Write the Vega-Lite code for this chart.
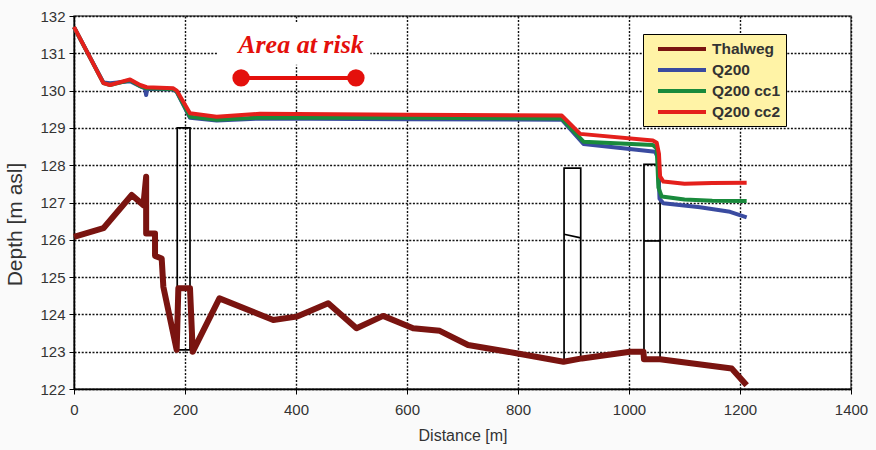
{
  "$schema": "https://vega.github.io/schema/vega-lite/v6.json",
  "width": 777,
  "height": 373,
  "autosize": "none",
  "padding": {"left": 74, "top": 16, "right": 25, "bottom": 61},
  "background": "#fafafa",
  "config": {
    "view": {"fill": "white", "stroke": "#555", "strokeWidth": 1.5},
    "font": "Liberation Sans",
    "axis": {
      "grid": true,
      "gridColor": "#111",
      "gridDash": [2, 1.6],
      "gridWidth": 1.4,
      "domainColor": "black",
      "domainWidth": 1.5,
      "tickColor": "black",
      "tickSize": 5,
      "labelFont": "Liberation Sans",
      "labelFontSize": 15,
      "labelColor": "#333",
      "labelOverlap": false,
      "labelFlush": false,
      "titleFont": "Liberation Sans",
      "titleFontSize": 16,
      "titleFontWeight": "normal",
      "titleColor": "#333"
    }
  },
  "datasets": {
    "profile": [
      {"series": "Thalweg", "i": 1, "x": 0, "y": 126.08},
      {"series": "Thalweg", "i": 2, "x": 53, "y": 126.31},
      {"series": "Thalweg", "i": 3, "x": 104, "y": 127.2},
      {"series": "Thalweg", "i": 4, "x": 125, "y": 126.93},
      {"series": "Thalweg", "i": 5, "x": 130, "y": 127.69},
      {"series": "Thalweg", "i": 6, "x": 130, "y": 126.17},
      {"series": "Thalweg", "i": 7, "x": 146, "y": 126.17},
      {"series": "Thalweg", "i": 8, "x": 146, "y": 125.57},
      {"series": "Thalweg", "i": 9, "x": 158, "y": 125.5},
      {"series": "Thalweg", "i": 10, "x": 161, "y": 124.74},
      {"series": "Thalweg", "i": 11, "x": 185, "y": 123.05},
      {"series": "Thalweg", "i": 12, "x": 188, "y": 124.7},
      {"series": "Thalweg", "i": 13, "x": 209, "y": 124.7},
      {"series": "Thalweg", "i": 14, "x": 214, "y": 123.0},
      {"series": "Thalweg", "i": 15, "x": 262, "y": 124.43},
      {"series": "Thalweg", "i": 16, "x": 359, "y": 123.85},
      {"series": "Thalweg", "i": 17, "x": 401, "y": 123.94},
      {"series": "Thalweg", "i": 18, "x": 458, "y": 124.3},
      {"series": "Thalweg", "i": 19, "x": 509, "y": 123.63},
      {"series": "Thalweg", "i": 20, "x": 557, "y": 123.96},
      {"series": "Thalweg", "i": 21, "x": 611, "y": 123.63},
      {"series": "Thalweg", "i": 22, "x": 659, "y": 123.56},
      {"series": "Thalweg", "i": 23, "x": 710, "y": 123.18},
      {"series": "Thalweg", "i": 24, "x": 797, "y": 122.96},
      {"series": "Thalweg", "i": 25, "x": 882, "y": 122.73},
      {"series": "Thalweg", "i": 26, "x": 915, "y": 122.82},
      {"series": "Thalweg", "i": 27, "x": 1002, "y": 123.0},
      {"series": "Thalweg", "i": 28, "x": 1026, "y": 123.0},
      {"series": "Thalweg", "i": 29, "x": 1027, "y": 122.8},
      {"series": "Thalweg", "i": 30, "x": 1056, "y": 122.8},
      {"series": "Thalweg", "i": 31, "x": 1185, "y": 122.55},
      {"series": "Thalweg", "i": 32, "x": 1212, "y": 122.1}
    ],
    "water": [
      {"series": "Q200", "i": 1, "x": 0, "y": 131.7},
      {"series": "Q200", "i": 2, "x": 53, "y": 130.22},
      {"series": "Q200", "i": 3, "x": 65, "y": 130.2},
      {"series": "Q200", "i": 4, "x": 101, "y": 130.25},
      {"series": "Q200", "i": 5, "x": 119, "y": 130.12},
      {"series": "Q200", "i": 6, "x": 128, "y": 130.06},
      {"series": "Q200", "i": 7, "x": 130, "y": 129.88},
      {"series": "Q200", "i": 8, "x": 132, "y": 130.05},
      {"series": "Q200", "i": 9, "x": 179, "y": 130.03},
      {"series": "Q200", "i": 10, "x": 185, "y": 129.97},
      {"series": "Q200", "i": 11, "x": 209, "y": 129.27},
      {"series": "Q200", "i": 12, "x": 257, "y": 129.2},
      {"series": "Q200", "i": 13, "x": 335, "y": 129.25},
      {"series": "Q200", "i": 14, "x": 600, "y": 129.23},
      {"series": "Q200", "i": 15, "x": 879, "y": 129.22},
      {"series": "Q200", "i": 16, "x": 918, "y": 128.57},
      {"series": "Q200", "i": 17, "x": 1047, "y": 128.36},
      {"series": "Q200", "i": 18, "x": 1052, "y": 128.2},
      {"series": "Q200", "i": 19, "x": 1055, "y": 127.1},
      {"series": "Q200", "i": 20, "x": 1062, "y": 126.98},
      {"series": "Q200", "i": 21, "x": 1128, "y": 126.87},
      {"series": "Q200", "i": 22, "x": 1182, "y": 126.75},
      {"series": "Q200", "i": 23, "x": 1212, "y": 126.6},
      {"series": "Q200 cc1", "i": 1, "x": 0, "y": 131.7},
      {"series": "Q200 cc1", "i": 2, "x": 53, "y": 130.2},
      {"series": "Q200 cc1", "i": 3, "x": 65, "y": 130.15},
      {"series": "Q200 cc1", "i": 4, "x": 101, "y": 130.28},
      {"series": "Q200 cc1", "i": 5, "x": 119, "y": 130.12},
      {"series": "Q200 cc1", "i": 6, "x": 131, "y": 130.06},
      {"series": "Q200 cc1", "i": 7, "x": 179, "y": 130.04},
      {"series": "Q200 cc1", "i": 8, "x": 185, "y": 129.98},
      {"series": "Q200 cc1", "i": 9, "x": 209, "y": 129.3},
      {"series": "Q200 cc1", "i": 10, "x": 257, "y": 129.22},
      {"series": "Q200 cc1", "i": 11, "x": 335, "y": 129.28},
      {"series": "Q200 cc1", "i": 12, "x": 600, "y": 129.27},
      {"series": "Q200 cc1", "i": 13, "x": 879, "y": 129.25},
      {"series": "Q200 cc1", "i": 14, "x": 918, "y": 128.63},
      {"series": "Q200 cc1", "i": 15, "x": 1043, "y": 128.54},
      {"series": "Q200 cc1", "i": 16, "x": 1050, "y": 128.45},
      {"series": "Q200 cc1", "i": 17, "x": 1053, "y": 127.4},
      {"series": "Q200 cc1", "i": 18, "x": 1059, "y": 127.16},
      {"series": "Q200 cc1", "i": 19, "x": 1100, "y": 127.08},
      {"series": "Q200 cc1", "i": 20, "x": 1150, "y": 127.05},
      {"series": "Q200 cc1", "i": 21, "x": 1212, "y": 127.04},
      {"series": "Q200 cc2", "i": 1, "x": 0, "y": 131.71},
      {"series": "Q200 cc2", "i": 2, "x": 53, "y": 130.2},
      {"series": "Q200 cc2", "i": 3, "x": 65, "y": 130.15},
      {"series": "Q200 cc2", "i": 4, "x": 101, "y": 130.3},
      {"series": "Q200 cc2", "i": 5, "x": 119, "y": 130.15},
      {"series": "Q200 cc2", "i": 6, "x": 131, "y": 130.09},
      {"series": "Q200 cc2", "i": 7, "x": 179, "y": 130.06},
      {"series": "Q200 cc2", "i": 8, "x": 185, "y": 130.0},
      {"series": "Q200 cc2", "i": 9, "x": 209, "y": 129.39},
      {"series": "Q200 cc2", "i": 10, "x": 257, "y": 129.3},
      {"series": "Q200 cc2", "i": 11, "x": 335, "y": 129.38},
      {"series": "Q200 cc2", "i": 12, "x": 600, "y": 129.35},
      {"series": "Q200 cc2", "i": 13, "x": 879, "y": 129.33},
      {"series": "Q200 cc2", "i": 14, "x": 912, "y": 128.84},
      {"series": "Q200 cc2", "i": 15, "x": 1043, "y": 128.66},
      {"series": "Q200 cc2", "i": 16, "x": 1050, "y": 128.6},
      {"series": "Q200 cc2", "i": 17, "x": 1054, "y": 128.3},
      {"series": "Q200 cc2", "i": 18, "x": 1056, "y": 127.7},
      {"series": "Q200 cc2", "i": 19, "x": 1062, "y": 127.56},
      {"series": "Q200 cc2", "i": 20, "x": 1100, "y": 127.5},
      {"series": "Q200 cc2", "i": 21, "x": 1150, "y": 127.52},
      {"series": "Q200 cc2", "i": 22, "x": 1212, "y": 127.53}
    ],
    "bridges": [
      {"x": 186, "x2": 209, "y": 123.05, "y2": 129.0},
      {"x": 883, "x2": 913, "y": 122.78, "y2": 127.92},
      {"x": 1027, "x2": 1056, "y": 122.78, "y2": 128.02}
    ],
    "decks": [
      {"x": 883, "x2": 913, "y": 126.15, "y2": 126.05},
      {"x": 1027, "x2": 1056, "y": 125.97, "y2": 125.97}
    ],
    "riskbg": [
      {"x": 258, "x2": 534, "y": 130.69, "y2": 131.84}
    ],
    "risk": [
      {"x": 301, "y": 130.34},
      {"x": 508, "y": 130.34}
    ],
    "risklabel": [
      {"x": 409, "y": 131.22, "label": "Area at risk"}
    ]
  },
  "encoding": {
    "x": {"field": "x", "type": "quantitative", "scale": {"domain": [0, 1400], "nice": false},
          "axis": {"values": [0, 200, 400, 600, 800, 1000, 1200, 1400], "tickCount": 20, "format": "d", "title": "Distance [m]", "labelPadding": 8, "titlePadding": 10}},
    "y": {"field": "y", "type": "quantitative", "scale": {"domain": [122, 132], "zero": false, "nice": false},
          "axis": {"values": [122, 123, 124, 125, 126, 127, 128, 129, 130, 131, 132], "tickCount": 20, "format": "d", "title": "Depth [m asl]", "labelPadding": 4, "titlePadding": 14, "titleFontSize": 21, "titleY": 208}}
  },
  "layer": [
    {
      "data": {"name": "riskbg"},
      "mark": {"type": "rect", "fill": "white"},
      "encoding": {
        "x2": {"field": "x2"},
        "y2": {"field": "y2"}
      }
    },
    {
      "data": {"name": "bridges"},
      "mark": {"type": "rect", "fill": null, "fillOpacity": 0, "stroke": "black", "strokeWidth": 1.7},
      "encoding": {
        "x2": {"field": "x2"},
        "y2": {"field": "y2"}
      }
    },
    {
      "data": {"name": "decks"},
      "mark": {"type": "rule", "stroke": "black", "strokeWidth": 1.7},
      "encoding": {
        "x2": {"field": "x2"},
        "y2": {"field": "y2"}
      }
    },
    {
      "data": {"name": "profile"},
      "mark": {"type": "line", "strokeWidth": 6, "strokeJoin": "round"},
      "encoding": {
        "order": {"field": "i", "type": "quantitative"},
        "color": {
          "field": "series", "type": "nominal",
          "scale": {"domain": ["Thalweg", "Q200", "Q200 cc1", "Q200 cc2"], "range": ["#7a1410", "#3a4ba0", "#198a3c", "#e4201c"]},
          "legend": {
            "orient": "none", "legendX": 569, "legendY": 18, "title": null,
            "fillColor": "#fff3a6", "strokeColor": "black", "padding": 5,
            "symbolType": "M-3,0H3", "symbolSize": 256, "symbolStrokeWidth": 4,
            "symbolOffset": 24, "labelOffset": 20,
            "labelFont": "Liberation Sans", "labelFontSize": 15.5, "labelFontWeight": "bold", "labelColor": "#333",
            "rowPadding": 2
          }
        }
      }
    },
    {
      "data": {"name": "water"},
      "mark": {"type": "line", "strokeWidth": 4, "strokeJoin": "round"},
      "encoding": {
        "order": {"field": "i", "type": "quantitative"},
        "color": {"field": "series", "type": "nominal"}
      }
    },
    {
      "data": {"name": "risk"},
      "mark": {"type": "line", "color": "#e4100c", "strokeWidth": 4},
      "encoding": {}
    },
    {
      "data": {"name": "risk"},
      "mark": {"type": "point", "filled": true, "color": "#e4100c", "size": 300, "opacity": 1},
      "encoding": {}
    },
    {
      "data": {"name": "risklabel"},
      "mark": {"type": "text", "color": "#e4100c", "font": "Liberation Serif", "fontSize": 26, "fontStyle": "italic", "fontWeight": "bold", "align": "center", "baseline": "middle"},
      "encoding": {
        "text": {"field": "label", "type": "nominal"}
      }
    }
  ]
}
